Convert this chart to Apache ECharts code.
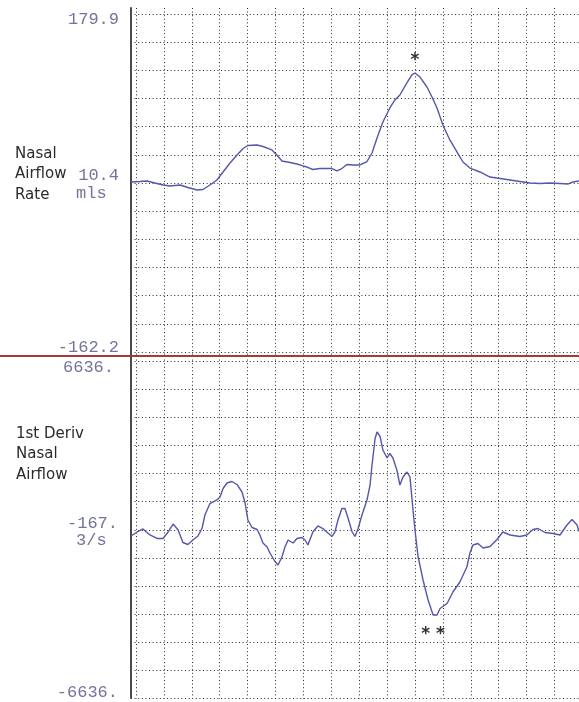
<!DOCTYPE html>
<html>
<head>
<meta charset="utf-8">
<script src="https://cdn.jsdelivr.net/npm/echarts@6/dist/echarts.min.js"></script>
<style>
html,body{margin:0;padding:0;background:#fff;}
#chart{width:579px;height:702px;}
</style>
</head>
<body>
<div id="chart"></div>
<script>
// ---- data (x in grid divisions, y in channel units) ----
const topTime = [-0.18,0.14,0.39,0.68,0.97,1.22,1.58,1.86,2.19,2.40,2.65,2.90,3.12,3.37,3.62,3.84,4.01,4.34,4.55,4.87,5.05,5.23,5.52,5.77,5.99,6.13,6.34,6.59,7.03,7.20,7.38,7.56,7.78,8.03,8.28,8.46,8.64,8.85,9.10,9.28,9.46,9.71,9.89,10.0,10.18,10.43,10.61,10.79,11.00,11.25,11.51,11.72,11.97,12.33,12.69,13.05,13.41,13.76,14.12,14.48,14.84,15.20,15.48,15.66,15.88];
const topValues = [9.9,10.4,10.9,8.8,6.8,5.8,6.8,4.3,1.8,2.3,6.8,11.9,20.0,29.1,37.2,43.8,46.8,47.3,45.8,42.3,37.2,31.1,29.6,28.1,26.1,25.0,22.5,23.5,23.5,21.0,23.5,27.6,27.1,27.1,30.6,39.2,54.4,70.6,84.8,92.9,97.9,110.1,118.2,120.2,116.1,106.0,95.9,84.8,67.6,52.4,40.2,30.1,24.0,20.0,14.9,13.4,11.9,10.4,8.8,8.3,8.8,8.3,7.8,9.9,10.9];

const bottomTime = [-0.18,0.04,0.25,0.50,0.75,0.97,1.15,1.33,1.51,1.68,1.86,2.04,2.22,2.37,2.47,2.65,2.90,3.01,3.12,3.26,3.44,3.62,3.80,3.91,4.01,4.16,4.34,4.44,4.55,4.70,4.80,4.98,5.09,5.23,5.34,5.45,5.63,5.77,5.95,6.06,6.16,6.34,6.52,6.70,6.88,7.03,7.13,7.24,7.38,7.49,7.60,7.74,7.85,7.96,8.10,8.28,8.39,8.46,8.57,8.64,8.75,8.85,9.00,9.10,9.21,9.35,9.46,9.57,9.71,9.82,9.93,10.0,10.11,10.29,10.47,10.65,10.79,10.90,11.15,11.36,11.61,11.86,11.97,12.08,12.26,12.44,12.69,12.94,13.15,13.41,13.76,14.01,14.23,14.41,14.66,14.95,15.20,15.45,15.63,15.81,15.88];
const bottomValues = [-246,-88,30,-206,-344,-344,-88,226,-10,-501,-580,-403,-246,69,580,1032,1170,1288,1622,1839,1898,1780,1485,1052,384,89,10,-206,-521,-678,-914,-1248,-1386,-1072,-678,-403,-521,-344,-305,-403,-600,-88,148,49,-128,-265,-88,384,836,836,462,-69,-265,49,580,1170,1760,2546,3588,3844,3667,3136,2822,2999,2822,2350,1760,2074,2271,2074,777,-10,-1052,-1976,-2762,-3352,-3352,-3097,-2899,-2448,-2055,-1465,-914,-600,-541,-718,-659,-383,-88,-206,-265,-206,10,49,-108,-147,-206,187,403,187,-69];

const topRange = [-162.2, 179.9];
const bottomRange = [-6636, 6636];
const topTickLabels = ['179.9', '10.4', '-162.2'];
const topUnit = 'mls';
const bottomTickLabels = ['6636.', '-167.', '-6636.'];
const bottomUnit = '3/s';
const topChannel = ['Nasal', 'Airflow', 'Rate'];
const bottomChannel = ['1st Deriv', 'Nasal', 'Airflow'];
const divisionsX = 15.88;
const divisionsY = 12;

// ---- styles ----
const traceColor = '#5656aa';
const numColor = '#74749c';
const monoFont = '"Liberation Mono", monospace';
const sansFont = '"DejaVu Sans", sans-serif';
const dotted = { color: '#2a2a2a', width: 1, type: [1, 2.6] };

function zip(a, b) { return a.map((v, i) => [v, b[i]]); }

const hidden = { show: false };
function gridAxisX(gi) {
  return { type: 'value', gridIndex: gi, min: 0, max: divisionsX, interval: 1,
    axisLine: hidden, axisTick: hidden, axisLabel: hidden,
    splitLine: { show: true, lineStyle: dotted, showMaxLine: false } };
}
function gridAxisY(gi) {
  return { type: 'value', gridIndex: gi, min: 0, max: divisionsY, interval: 1,
    axisLine: hidden, axisTick: hidden, axisLabel: hidden,
    splitLine: { show: true, lineStyle: dotted } };
}

function txt(text, x, y, align, font, size, color, weight) {
  return { type: 'text', silent: true, style: { text, x, y, align, verticalAlign: 'middle',
    fontFamily: font, fontSize: size, fill: color, fontWeight: weight || 'normal' } };
}

const graphics = [
  txt(topTickLabels[0], 119, 19, 'right', monoFont, 17, numColor),
  txt(topTickLabels[1], 119, 175, 'right', monoFont, 17, numColor),
  txt(topUnit, 76, 193, 'left', monoFont, 17, numColor),
  txt(topTickLabels[2], 119, 347, 'right', monoFont, 17, numColor),
  txt(bottomTickLabels[0], 114, 367, 'right', monoFont, 17, numColor),
  txt(bottomTickLabels[1], 118, 523, 'right', monoFont, 17, numColor),
  txt(bottomUnit, 76, 540, 'left', monoFont, 17, numColor),
  txt(bottomTickLabels[2], 118, 692, 'right', monoFont, 17, numColor),
];
topChannel.forEach((s, i) => graphics.push(txt(s, 15, 154 + i * 20.5, 'left', sansFont, 15, '#2b2b2b')));
bottomChannel.forEach((s, i) => graphics.push(txt(s, 16, 434 + i * 20.5, 'left', sansFont, 15, '#2b2b2b')));

const option = {
  animation: false,
  backgroundColor: '#ffffff',
  grid: [
    { left: 131, right: 0, top: 14, height: 338 },      // 0 top data
    { left: 136, right: 0, top: 8, height: 348 },       // 1 top vertical lines
    { left: 131, right: 0, top: 361, height: 337.5 },   // 2 bottom data
    { left: 136, right: 0, top: 356, height: 342.5 },   // 3 bottom vertical lines
    { left: 131, right: 0, top: 8, height: 690 },       // 4 axis line
    { left: 0, right: 0, top: 355, height: 1 }          // 5 separator
  ],
  xAxis: [
    { type: 'value', gridIndex: 0, min: -0.18, max: divisionsX, show: false },
    gridAxisX(1),
    { type: 'value', gridIndex: 2, min: -0.18, max: divisionsX, show: false },
    gridAxisX(3),
    { type: 'value', gridIndex: 4, min: 0, max: 1, show: false },
    { type: 'value', gridIndex: 5, min: 0, max: 1, position: 'bottom',
      axisLine: { show: true, onZero: false, lineStyle: { color: '#a63a3a', width: 2 } },
      axisTick: hidden, axisLabel: hidden, splitLine: hidden }
  ],
  yAxis: [
    { type: 'value', gridIndex: 0, min: topRange[0], max: topRange[1], show: false },
    gridAxisY(0),
    { type: 'value', gridIndex: 1, min: 0, max: 1, show: false },
    { type: 'value', gridIndex: 2, min: bottomRange[0], max: bottomRange[1], show: false },
    gridAxisY(2),
    { type: 'value', gridIndex: 3, min: 0, max: 1, show: false },
    { type: 'value', gridIndex: 4, min: 0, max: 1,
      axisLine: { show: true, onZero: false, lineStyle: { color: '#4a4a4a', width: 2 } },
      axisTick: hidden, axisLabel: hidden, splitLine: hidden },
    { type: 'value', gridIndex: 5, min: 0, max: 1, show: false }
  ],
  series: [
    { type: 'line', xAxisIndex: 0, yAxisIndex: 0, data: zip(topTime, topValues),
      showSymbol: false, symbol: 'none', lineStyle: { color: traceColor, width: 1.4 },
      markPoint: { symbol: 'circle', symbolSize: 1, itemStyle: { color: 'rgba(0,0,0,0)' },
        label: { show: true, formatter: '*', offset: [0, -12], color: '#333',
          fontFamily: sansFont, fontSize: 17, fontWeight: 'bold' },
        data: [{ type: 'max' }] } },
    { type: 'line', xAxisIndex: 2, yAxisIndex: 3, data: zip(bottomTime, bottomValues),
      showSymbol: false, symbol: 'none', lineStyle: { color: traceColor, width: 1.4 },
      markPoint: { symbol: 'circle', symbolSize: 1, itemStyle: { color: 'rgba(0,0,0,0)' },
        label: { show: true, formatter: '* *', offset: [0, 20], color: '#333',
          fontFamily: sansFont, fontSize: 17, fontWeight: 'bold' },
        data: [{ type: 'min' }] } }
  ],
  graphic: graphics
};

const chart = echarts.init(document.getElementById('chart'), null, { renderer: 'canvas' });
chart.setOption(option);
</script>
</body>
</html>
